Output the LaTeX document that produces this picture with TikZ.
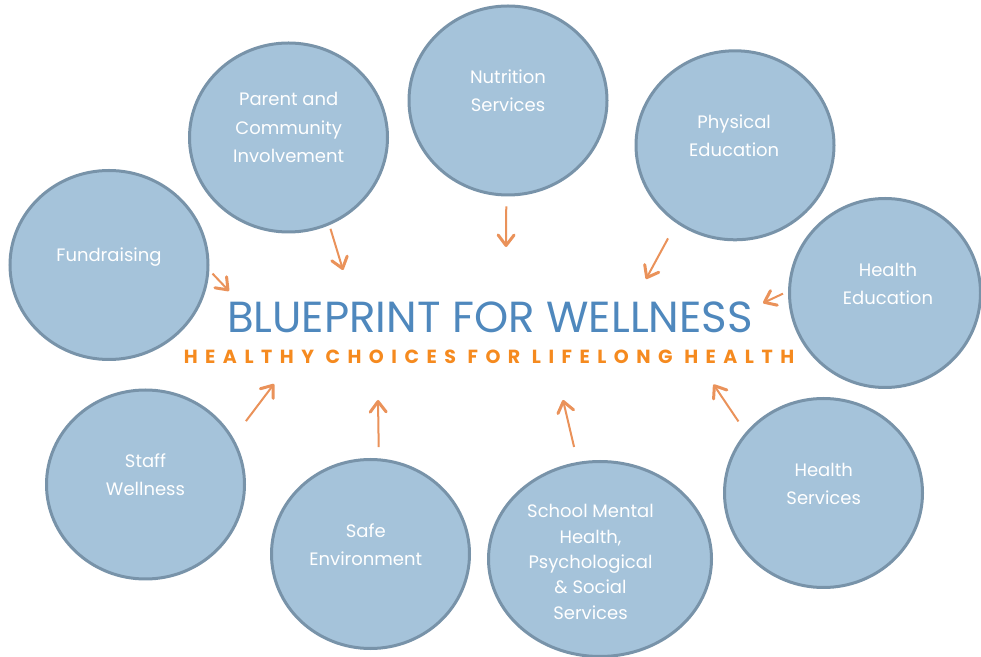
\documentclass[tikz,border=0pt]{standalone}
\usepackage{fontspec}
\setmainfont{Poppins}
\usetikzlibrary{shapes.geometric,arrows.meta}
\definecolor{bubblefill}{HTML}{A5C3DA}
\definecolor{bubbleline}{HTML}{7893A9}
\definecolor{titleblue}{HTML}{4F88BD}
\definecolor{tagorange}{HTML}{F58A1F}
\definecolor{arrorange}{HTML}{EA925A}
\newcommand{\bsize}{\fontsize{18bp}{28.4bp}\selectfont}

\begin{document}
\begin{tikzpicture}[>={Straight Barb[length=10.5bp,width=16bp,line width=3bp,round]}]
      \tikzstyle{every node}=[font=\bsize]
      \tikzstyle{circ}=[ellipse,draw=bubbleline,line width=3bp,fill=bubblefill,minimum width=198bp,minimum height=189bp,inner sep=0pt]
      \tikzstyle{lbl}=[text=white,align=center,inner sep=0pt]
      \tikzstyle{arr}=[->,draw=arrorange,line width=2bp]

  \useasboundingbox (0bp,0bp) rectangle (981bp,657bp);

%% bubbles
  \node (fund) at (109bp,392bp) [circ] {};
  \node (parent) at (288.5bp,519.5bp) [circ] {};
  \node (nutr) at (508bp,556.5bp) [circ] {};
  \node (phys) at (735bp,511.7bp) [circ] {};
  \node (hedu) at (885bp,364bp) [circ,minimum width=191bp] {};
  \node (staff) at (145.5bp,172.5bp) [circ] {};
  \node (safe) at (370.5bp,103bp) [circ] {};
  \node (mental) at (600bp,98bp) [circ,minimum width=223bp,minimum height=195bp] {};
  \node (hserv) at (823.5bp,164bp) [circ] {};
%% bubble texts
  \node (fund_t) at (109bp,399.5bp) [lbl] {Fundraising};
  \node (parent_t) at (288.7bp,529.5bp) [lbl] {Parent and\\Community\\Involvement};
  \node (nutr_t) at (508bp,566.1bp) [lbl] {Nutrition\\Services};
  \node (phys_t) at (734.2bp,521.1bp) [lbl] {Physical\\Education};
  \node (hedu_t) at (888bp,373.2bp) [lbl] {Health\\Education};
  \node (staff_t) at (145.5bp,182.5bp) [lbl] {Staff\\Wellness};
  \node (safe_t) at (365.8bp,112bp) [lbl] {Safe\\Environment};
  \node (mental_t) at (590.5bp,95.1bp) [lbl,font=\fontsize{18bp}{25.4bp}\selectfont] {School Mental\\Health,\\Psychological\\\& Social\\Services};
  \node (hserv_t) at (823.7bp,173.2bp) [lbl] {Health\\Services};
%% heading
  \node (title) at (490bp,324.7bp) [anchor=base,inner sep=0pt,text=titleblue,font=\fontsize{43.5bp}{43.5bp}\selectfont] {BLUEPRINT FOR WELLNESS};
  \node (tag) at (489bp,293bp) [anchor=base,inner sep=0pt,text=tagorange,font=\fontsize{19bp}{19bp}\selectfont\bfseries\addfontfeature{LetterSpace=39.6}] {HEALTHY CHOICES FOR LIFELONG HEALTH};
%% arrow heads
  \coordinate (h_fund) at (229bp,366bp);
  \coordinate (h_parent) at (343bp,387bp);
  \coordinate (h_nutr) at (506bp,410bp);
  \coordinate (h_phys) at (646bp,378bp);
  \coordinate (h_hedu) at (763bp,354bp);
  \coordinate (h_staff) at (274bp,273bp);
  \coordinate (h_safe) at (378bp,257bp);
  \coordinate (h_mental) at (563bp,257bp);
  \coordinate (h_hserv) at (713.5bp,272.5bp);
  \draw [arr,shorten <=4.6bp] (fund.-3.8) -- (h_fund);
  \draw [arr,shorten <=3.8bp] (parent.-65.9) -- (h_parent);
  \draw [arr,shorten <=10bp] (nutr.-91.2) -- (h_nutr);
  \draw [arr,shorten <=17.3bp] (phys.-127.9) -- (h_phys);
  \draw [arr,shorten <=5.5bp] (hedu.179.2) -- (h_hedu);
  \draw [arr,shorten <=20.9bp] (staff.28) -- (h_staff);
  \draw [arr,shorten <=11.3bp] (safe.85.5) -- (h_safe);
  \draw [arr,shorten <=15.4bp] (mental.103.1) -- (h_mental);
  \draw [arr,shorten <=13bp] (hserv.142.5) -- (h_hserv);
%
\end{tikzpicture}
\end{document}
